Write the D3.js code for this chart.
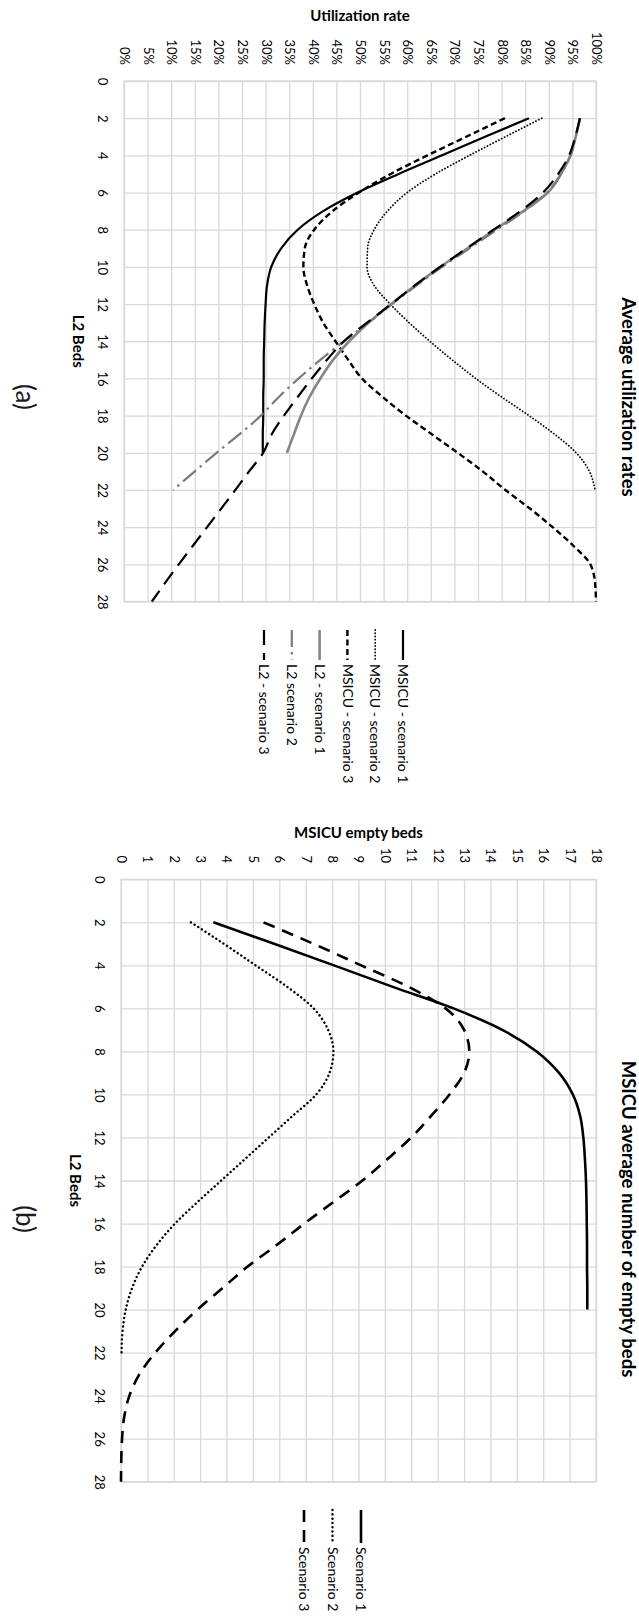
<!DOCTYPE html>
<html>
<head>
<meta charset="utf-8">
<script src="https://cdn.jsdelivr.net/npm/d3@7"></script>
<style>
  html, body { margin: 0; padding: 0; background: #fff; }
  svg { display: block; }
</style>
</head>
<body>
<svg id="chart" width="639" height="1622"></svg>
<script>
// ---- Data -------------------------------------------------------------
// Number of L2 beds; every series starts at 2 beds
const l2Beds = [2, 3, 4, 5, 6, 7, 8, 9, 10, 11, 12, 13, 14, 15, 16, 17, 18, 19, 20, 21, 22, 23, 24, 25, 26, 27, 28];
const bedTicks = [0, 2, 4, 6, 8, 10, 12, 14, 16, 18, 20, 22, 24, 26, 28];
const utilTicks = [0, 5, 10, 15, 20, 25, 30, 35, 40, 45, 50, 55, 60, 65, 70, 75, 80, 85, 90, 95, 100];
const emptyTicks = [0, 1, 2, 3, 4, 5, 6, 7, 8, 9, 10, 11, 12, 13, 14, 15, 16, 17, 18];

// (a) Average utilization rates, %
const msicuScenario1 = [85.8, 76.5, 67.4, 58.2, 49.5, 42.2, 36.8, 33.3, 31.2, 30.3, 30.0, 29.8, 29.7, 29.6, 29.6, 29.5, 29.5, 29.4, 29.4];
const msicuScenario2 = [88.5, 80.8, 73.2, 66.0, 60.0, 55.8, 53.0, 51.6, 51.5, 53.0, 56.4, 60.4, 64.8, 69.5, 74.5, 80.0, 85.8, 91.2, 95.8, 98.6, 99.8];
const msicuScenario3 = [80.7, 72.5, 64.3, 56.5, 49.8, 44.2, 40.3, 38.3, 38.0, 38.8, 40.3, 42.2, 44.8, 47.5, 50.4, 54.8, 59.7, 65.2, 70.7, 76.0, 80.8, 86.0, 90.8, 95.2, 98.8, 99.8, 100];
const l2Scenario1 = [96.6, 95.7, 94.6, 92.6, 89.8, 84.6, 78.5, 72.8, 67.0, 61.7, 56.6, 51.8, 47.7, 44.3, 41.6, 39.3, 37.5, 36.0, 34.5];
const l2Scenario2 = [96.6, 95.7, 94.6, 92.6, 89.6, 84.8, 79.0, 73.2, 67.4, 62.0, 56.8, 51.8, 46.6, 41.6, 37.0, 32.8, 29.0, 24.5, 19.6, 15.0, 10.4];
const l2Scenario3 = [96.6, 95.6, 94.3, 92.0, 88.8, 84.0, 78.3, 72.6, 67.0, 61.6, 56.6, 51.5, 46.6, 43.0, 39.8, 36.8, 33.9, 31.3, 29.5, 26.5, 23.6, 20.6, 17.6, 14.6, 11.6, 8.7, 5.9];

// (b) MSICU average number of empty beds
const emptyScenario1 = [3.5, 5.8, 8.07, 10.3, 12.6, 14.45, 15.75, 16.6, 17.12, 17.4, 17.52, 17.58, 17.62, 17.64, 17.65, 17.66, 17.66, 17.67, 17.67];
const emptyScenario2 = [2.65, 3.9, 5.1, 6.3, 7.3, 7.85, 8.05, 7.9, 7.4, 6.5, 5.6, 4.7, 3.8, 2.9, 2.05, 1.35, 0.8, 0.42, 0.18, 0.06, 0.02];
const emptyScenario3 = [5.4, 7.3, 9.1, 10.9, 12.3, 13.0, 13.2, 13.0, 12.45, 11.75, 11.0, 10.1, 9.15, 8.05, 6.95, 5.9, 4.8, 3.85, 2.9, 2.05, 1.3, 0.7, 0.32, 0.12, 0.04, 0.01, 0.0];

const legendA = ["MSICU - scenario 1", "MSICU - scenario 2", "MSICU - scenario 3", "L2 - scenario 1", "L2 scenario 2", "L2 - scenario 3"];
const legendB = ["Scenario 1", "Scenario 2", "Scenario 3"];

// ---- Styles -----------------------------------------------------------
const FONT = "Lato, 'Open Sans', sans-serif";
const GRID = "#d9d9d9";
const lineStyles = {
  solid:      { stroke: "#000", width: 2.2, dash: null, cap: "butt" },
  dotted:     { stroke: "#000", width: 1.8, dash: "0.1 3.1", cap: "round" },
  shortDash:  { stroke: "#000", width: 2.4, dash: "6 3.5", cap: "butt" },
  graySolid:  { stroke: "#858585", width: 2.6, dash: null, cap: "butt" },
  grayDashDot:{ stroke: "#7a7a7a", width: 2.2, dash: "17 5 2.5 5", cap: "butt" },
  longDash:   { stroke: "#000", width: 2.2, dash: "15 8", cap: "butt" },
  bSolid:     { stroke: "#000", width: 2.6, dash: null, cap: "butt" },
  bDotted:    { stroke: "#000", width: 2.4, dash: "0.1 4.2", cap: "round" },
  bDashed:    { stroke: "#000", width: 2.6, dash: "12 8", cap: "butt" }
};

const svg = d3.select("#chart");

function applyStyle(sel, st) {
  sel.attr("fill", "none")
    .attr("stroke", st.stroke)
    .attr("stroke-width", st.width)
    .attr("stroke-linecap", st.cap)
    .attr("stroke-dasharray", st.dash);
}

// Text rotated a quarter turn clockwise, baseline at x = bx
function rotatedText(g, bx, cy, str, size, weight, anchor, dy) {
  return g.append("text")
    .attr("x", bx).attr("y", cy)
    .attr("dy", dy || 0)
    .attr("transform", `rotate(90,${bx},${cy})`)
    .attr("text-anchor", anchor)
    .attr("font-family", FONT)
    .attr("font-size", size)
    .attr("font-weight", weight)
    .attr("fill", "#000")
    .text(str);
}

function drawPanel(o) {
  const g = svg.append("g");
  const x = d3.scaleLinear().domain([0, o.xMax]).range([o.left, o.right]);
  const y = d3.scaleLinear().domain([0, 28]).range([o.top, o.bottom]);
  const plotW = o.right - o.left, plotH = o.bottom - o.top;

  // value axis (top) with vertical gridlines
  const gx = g.append("g")
    .attr("transform", `translate(0,${o.top})`)
    .call(d3.axisTop(x).tickValues(o.xTicks).tickSize(-plotH).tickFormat(o.fmt))
    .attr("font-family", FONT).attr("font-size", 13);
  gx.select(".domain").remove();
  gx.selectAll(".tick line").attr("stroke", GRID).attr("stroke-width", 1.3);
  gx.selectAll(".tick text")
    .attr("x", 0).attr("y", 0).attr("dy", "0.35em")
    .attr("text-anchor", "end").attr("fill", "#000")
    .attr("transform", `translate(0,${o.xLabelEnd - o.top}) rotate(90)`);

  // L2 beds axis (left) with horizontal gridlines
  const gy = g.append("g")
    .attr("transform", `translate(${o.left},0)`)
    .call(d3.axisLeft(y).tickValues(bedTicks).tickSize(-plotW))
    .attr("font-family", FONT).attr("font-size", 13);
  gy.select(".domain").remove();
  gy.selectAll(".tick line").attr("stroke", GRID).attr("stroke-width", 1.3);
  gy.selectAll(".tick text")
    .attr("x", 0).attr("y", 0).attr("dy", "0.35em")
    .attr("text-anchor", "middle").attr("fill", "#000")
    .attr("transform", `translate(${o.yLabelX - o.left},0) rotate(90)`);

  g.append("rect")
    .attr("x", o.left).attr("y", o.top).attr("width", plotW).attr("height", plotH)
    .attr("fill", "none").attr("stroke", GRID).attr("stroke-width", 1.3);

  // series
  const line = d3.line()
    .x(d => x(d.v))
    .y(d => y(d.bed))
    .curve(d3.curveMonotoneY);
  o.series.forEach(s => {
    const pts = s.values.map((v, i) => ({ bed: l2Beds[i], v }));
    g.append("path").datum(pts).attr("d", line).call(applyStyle, lineStyles[s.style]);
  });

  // titles
  g.append("text")
    .attr("x", (o.left + o.right) / 2).attr("y", o.xTitleY)
    .attr("text-anchor", "middle")
    .attr("font-family", FONT).attr("font-size", 15).attr("font-weight", 700)
    .attr("fill", "#000")
    .text(o.xTitle);
  rotatedText(g, o.yTitleX, (o.top + o.bottom) / 2, "L2 Beds", 15, 700, "middle");
  rotatedText(g, 622, o.titleY, o.title, 18.5, 700, "middle");
  rotatedText(g, 16, o.titleY, o.tag, 26, 400, "middle").attr("fill", "#1c1c24");

  // legend: entries stacked from right to left, reading downward
  o.series.forEach((s, i) => {
    const cx = o.legendX - i * o.legendStep;
    g.append("line")
      .attr("x1", cx).attr("x2", cx)
      .attr("y1", o.legendTop).attr("y2", o.legendTop + o.legendLen)
      .call(applyStyle, lineStyles[s.style]);
    rotatedText(g, cx, o.legendTop + o.legendLen + 4, s.name, 14, 400, "start", "0.35em");
  });
}

drawPanel({
  left: 124, right: 596, top: 81, bottom: 601.5,
  xMax: 100, xTicks: utilTicks, fmt: d => d + "%",
  xLabelEnd: 65, yLabelX: 102.5,
  xTitle: "Utilization rate", xTitleY: 20.5,
  yTitleX: 73,
  title: "Average utilization rates", titleY: 397, tag: "(a)",
  legendX: 403, legendStep: 27.8, legendTop: 630, legendLen: 30,
  series: [
    { name: legendA[0], values: msicuScenario1, style: "solid" },
    { name: legendA[1], values: msicuScenario2, style: "dotted" },
    { name: legendA[2], values: msicuScenario3, style: "shortDash" },
    { name: legendA[3], values: l2Scenario1, style: "graySolid" },
    { name: legendA[4], values: l2Scenario2, style: "grayDashDot" },
    { name: legendA[5], values: l2Scenario3, style: "longDash" }
  ]
});

drawPanel({
  left: 121, right: 596, top: 879.3, bottom: 1481.7,
  xMax: 18, xTicks: emptyTicks, fmt: d => String(d),
  xLabelEnd: 863, yLabelX: 99.5,
  xTitle: "MSICU empty beds", xTitleY: 838,
  yTitleX: 69.5,
  title: "MSICU average number of empty beds", titleY: 1219, tag: "(b)",
  legendX: 361, legendStep: 28.5, legendTop: 1510, legendLen: 33,
  series: [
    { name: legendB[0], values: emptyScenario1, style: "bSolid" },
    { name: legendB[1], values: emptyScenario2, style: "bDotted" },
    { name: legendB[2], values: emptyScenario3, style: "bDashed" }
  ]
});
</script>
</body>
</html>
